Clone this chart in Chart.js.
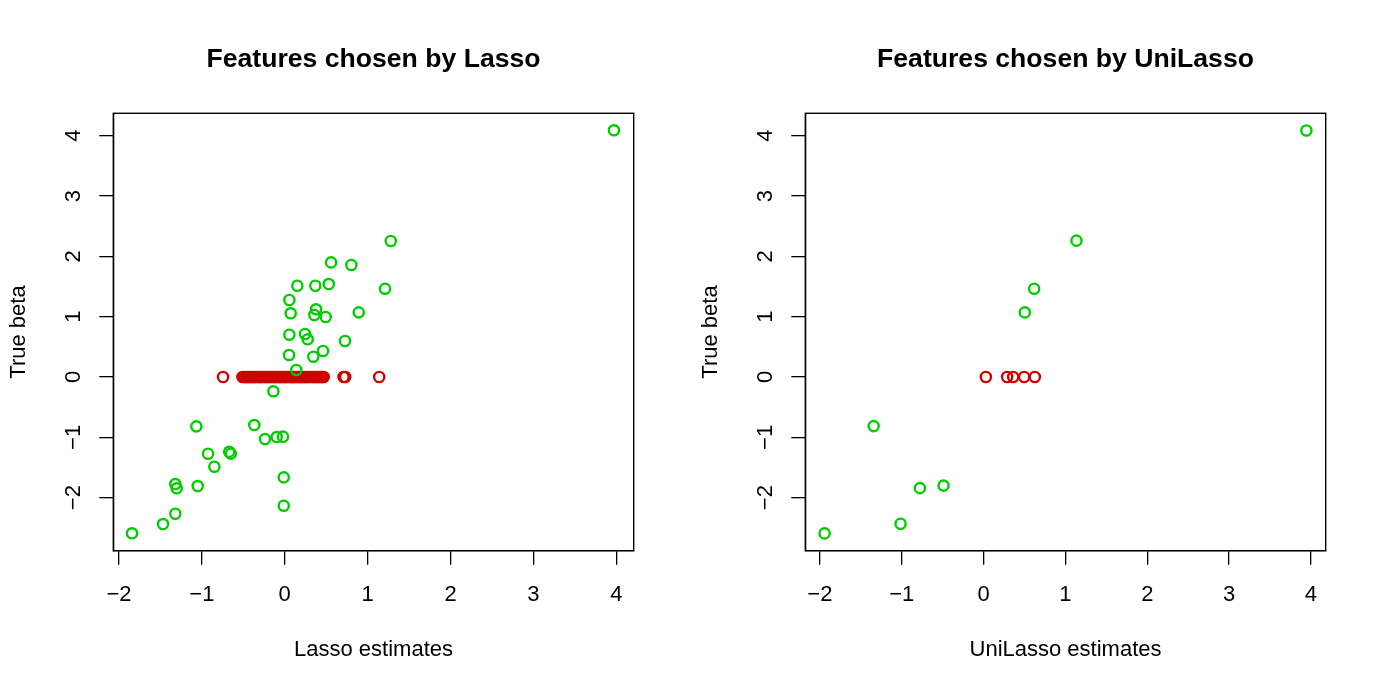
<!DOCTYPE html>
<html>
<head>
<meta charset="utf-8">
<script src="https://cdn.jsdelivr.net/npm/chart.js@4.4.1/dist/chart.umd.min.js"></script>
<style>
  html, body { margin: 0; padding: 0; background: #ffffff; }
  #wrap { position: relative; width: 1384px; height: 692px; background: #ffffff; }
  .panel { position: absolute; top: 0; width: 692px; height: 692px; }
  #p1 { left: 0; }
  #p2 { left: 692px; }
</style>
</head>
<body>
<div id="wrap">
  <div class="panel" id="p1"><canvas id="c1" width="692" height="692"></canvas></div>
  <div class="panel" id="p2"><canvas id="c2" width="692" height="692"></canvas></div>
</div>
<script>
// ---------- Data ----------
const tickValues = [-2, -1, 0, 1, 2, 3, 4];

// Left panel: Lasso estimates vs true beta
const lassoTitle = 'Features chosen by Lasso';
const lassoXLabel = 'Lasso estimates';
const lassoGreenX = [3.972, 1.279, 0.559, 0.804, 0.152, 0.369, 0.531, 1.210, 0.056, 0.072,
                     0.378, 0.357, 0.494, 0.893, 0.056, 0.245, 0.277, 0.727, 0.052, 0.345,
                     0.462, 0.140, -0.137, -1.066, -0.367, -0.238, -0.097, -0.021, -0.925, -0.670,
                     -0.650, -0.849, -1.320, -1.303, -1.050, -0.012, -1.320, -1.468, -1.842, -0.012];
const lassoGreenY = [4.089, 2.254, 1.900, 1.857, 1.513, 1.513, 1.541, 1.464, 1.276, 1.056,
                     1.122, 1.028, 0.995, 1.072, 0.701, 0.713, 0.625, 0.597, 0.365, 0.337,
                     0.431, 0.116, -0.237, -0.818, -0.796, -1.028, -0.995, -0.989, -1.271, -1.240,
                     -1.270, -1.487, -1.774, -1.845, -1.807, -1.663, -2.266, -2.437, -2.591, -2.133];
const lassoRedX = [-0.744, -0.51, -0.49, -0.47, -0.45, -0.44, -0.42, -0.40, -0.38, -0.37, -0.35,
                   -0.33, -0.31, -0.30, -0.28, -0.26, -0.24, -0.22, -0.21, -0.19, -0.17, -0.15,
                   -0.13, -0.12, -0.10, -0.08, -0.06, -0.05, -0.03, -0.01, 0.01, 0.02, 0.04,
                   0.06, 0.08, 0.09, 0.11, 0.13, 0.15, 0.17, 0.18, 0.20, 0.22, 0.24, 0.26,
                   0.27, 0.29, 0.31, 0.33, 0.35, 0.36, 0.38, 0.40, 0.42, 0.44, 0.45, 0.47,
                   0.71, 0.73, 1.14];
const lassoRedY = lassoRedX.map(() => 0);

// Right panel: UniLasso estimates vs true beta
const uniTitle = 'Features chosen by UniLasso';
const uniXLabel = 'UniLasso estimates';
const uniGreenX = [3.944, 1.135, 0.618, 0.504, -1.343, -0.778, -0.489, -1.014, -1.942];
const uniGreenY = [4.087, 2.260, 1.464, 1.071, -0.814, -1.842, -1.800, -2.432, -2.592];
const uniRedX = [0.028, 0.288, 0.362, 0.496, 0.626];
const uniRedY = uniRedX.map(() => 0);

const yLabel = 'True beta';

// axis limits (R style, 4% extension of the data range)
const lassoXRange = [-2.068, 4.210];
const uniXRange = [-2.178, 4.180];
const yRange = [-2.879, 4.371];

// ---------- Styling ----------
const GREEN = '#00CD00';
const RED = '#CD0000';
const FONT = "'Liberation Sans', Arial, Helvetica, sans-serif";
const AXIS_PX = 22;
const TITLE_PX = 26.6;

const boxPlugin = {
  id: 'rbox',
  afterDatasetsDraw(chart) {
    const a = chart.chartArea;
    const ctx = chart.ctx;
    ctx.save();
    ctx.strokeStyle = '#000';
    ctx.lineWidth = 1.4;
    ctx.strokeRect(a.left, a.top, a.right - a.left, a.bottom - a.top);
    ctx.restore();
  }
};

function toPairs(xs, ys) { return xs.map((x, i) => ({ x: x, y: ys[i] })); }

function makeChart(canvasId, title, xLabel, gx, gy, rx, ry, xRange) {
  const chartTop = 113.3, chartBottom = 550.7, chartLeft = 113.3, chartRight = 633.7;
  const W = 692, H = 692;
  const titleLH = TITLE_PX * 1.2;
  const titleCenter = 59.5;
  return new Chart(document.getElementById(canvasId), {
    type: 'scatter',
    data: {
      datasets: [
        {
          data: toPairs(gx, gy),
          borderColor: GREEN,
          backgroundColor: 'rgba(0,0,0,0)',
          pointRadius: 5.1,
          pointHoverRadius: 5.1,
          pointBorderWidth: 2.4,
          pointStyle: 'circle'
        },
        {
          data: toPairs(rx, ry),
          borderColor: RED,
          backgroundColor: 'rgba(0,0,0,0)',
          pointRadius: 5.1,
          pointHoverRadius: 5.1,
          pointBorderWidth: 2.4,
          pointStyle: 'circle'
        }
      ]
    },
    options: {
      responsive: false,
      animation: false,
      events: [],
      layout: { padding: { top: 0, left: 0, right: W - chartRight, bottom: 0 } },
      plugins: {
        legend: { display: false },
        tooltip: { enabled: false },
        title: {
          display: true,
          text: title,
          fullSize: false,
          color: '#000',
          font: { family: FONT, size: TITLE_PX, weight: 'bold', lineHeight: 1.2 },
          padding: { top: titleCenter - titleLH / 2, bottom: chartTop - titleCenter - titleLH / 2 }
        }
      },
      scales: {
        x: {
          type: 'linear',
          position: 'bottom',
          min: xRange[0],
          max: xRange[1],
          afterBuildTicks: (s) => { s.ticks = tickValues.map(v => ({ value: v })); },
          afterFit: (s) => { s.height = H - chartBottom; },
          grid: { display: true, drawOnChartArea: false, drawTicks: true, tickLength: 14, color: '#000', lineWidth: 1.3 },
          border: { display: true, color: '#000', width: 1.3 },
          ticks: {
            color: '#000',
            padding: 17,
            maxRotation: 0,
            minRotation: 0,
            autoSkip: false,
            font: { family: FONT, size: AXIS_PX, lineHeight: 1.2 },
            callback: (v) => (v < 0 ? '\u2212' + Math.abs(v) : String(v))
          },
          title: {
            display: true,
            text: xLabel,
            color: '#000',
            font: { family: FONT, size: AXIS_PX, lineHeight: 1.2 },
            padding: { top: 0, bottom: 28.8 }
          }
        },
        y: {
          type: 'linear',
          position: 'left',
          min: yRange[0],
          max: yRange[1],
          afterBuildTicks: (s) => { s.ticks = tickValues.map(v => ({ value: v })); },
          afterFit: (s) => { s.width = chartLeft; },
          grid: { display: true, drawOnChartArea: false, drawTicks: true, tickLength: 14, color: '#000', lineWidth: 1.3 },
          border: { display: true, color: '#000', width: 1.3 },
          ticks: {
            color: '#000',
            padding: 13,
            minRotation: 90,
            maxRotation: 90,
            crossAlign: 'center',
            autoSkip: false,
            font: { family: FONT, size: AXIS_PX, lineHeight: 1.2 },
            callback: (v) => (v < 0 ? '\u2212' + Math.abs(v) : String(v))
          },
          title: {
            display: true,
            text: yLabel,
            color: '#000',
            font: { family: FONT, size: AXIS_PX, lineHeight: 1.2 },
            padding: { top: 5.3, bottom: 0 }
          }
        }
      }
    },
    plugins: [boxPlugin]
  });
}

makeChart('c1', lassoTitle, lassoXLabel, lassoGreenX, lassoGreenY, lassoRedX, lassoRedY, lassoXRange);
makeChart('c2', uniTitle, uniXLabel, uniGreenX, uniGreenY, uniRedX, uniRedY, uniXRange);
</script>
</body>
</html>
